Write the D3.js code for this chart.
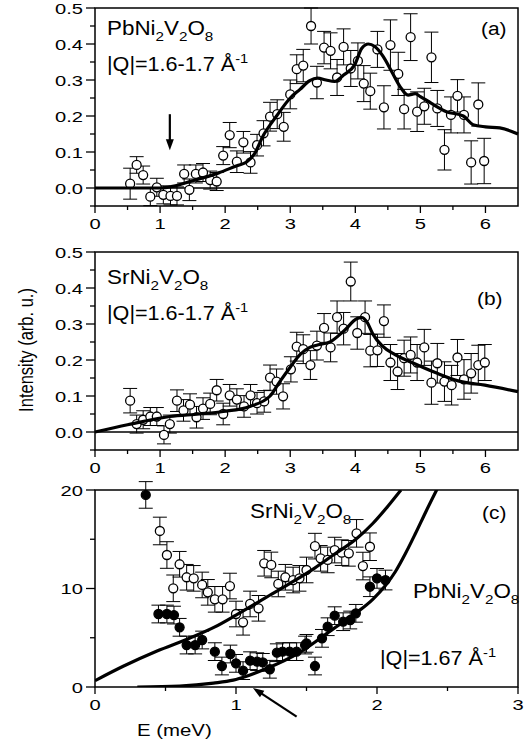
<!DOCTYPE html>
<html><head><meta charset="utf-8">
<script src="https://cdn.jsdelivr.net/npm/d3@7"></script>
<style>body{margin:0;background:#fff}svg{display:block}</style>
</head><body>
<svg id="c" width="531" height="743"></svg>
<script>
// ---------- DATA ----------
// Panel (a): PbNi2V2O8, |Q|=1.6-1.7
const aE   = [0.54,0.64,0.74,0.85,0.95,1.05,1.16,1.26,1.37,1.45,1.55,1.66,1.77,1.87,1.97,2.07,2.18,2.28,2.39,2.49,2.59,2.69,2.80,2.90,3.00,3.10,3.20,3.32,3.41,3.52,3.62,3.72,3.82,3.93,4.04,4.13,4.23,4.34,4.44,4.54,4.66,4.75,4.85,4.95,5.06,5.17,5.26,5.37,5.47,5.57,5.67,5.78,5.89,5.98];
const aI   = [0.012,0.064,0.036,-0.024,0.002,-0.019,-0.022,-0.022,0.039,-0.005,0.039,0.043,0.022,0.018,0.090,0.147,0.073,0.127,0.071,0.119,0.152,0.198,0.205,0.170,0.260,0.330,0.340,0.450,0.293,0.390,0.381,0.307,0.392,0.332,0.353,0.290,0.269,0.385,0.224,0.397,0.317,0.219,0.419,0.212,0.227,0.363,0.221,0.106,0.203,0.256,0.203,0.071,0.232,0.075];
const aErr = [0.043,0.023,0.025,0.025,0.025,0.025,0.025,0.025,0.025,0.030,0.025,0.025,0.025,0.025,0.025,0.035,0.030,0.030,0.030,0.030,0.035,0.040,0.040,0.040,0.040,0.040,0.045,0.050,0.045,0.045,0.050,0.050,0.050,0.050,0.050,0.050,0.050,0.050,0.060,0.070,0.060,0.055,0.065,0.055,0.050,0.070,0.050,0.056,0.050,0.045,0.050,0.060,0.060,0.063];
const aFitE = [0,1.0,1.12,1.5,1.9,2.18,2.33,2.45,2.59,2.79,3.0,3.15,3.3,3.42,3.55,3.68,3.82,3.99,4.10,4.20,4.30,4.43,4.56,4.69,4.81,4.92,5.0,5.17,5.40,5.66,5.81,6.0,6.22,6.5];
const aFitI = [0,0,0.002,0.02,0.042,0.062,0.072,0.095,0.147,0.200,0.250,0.274,0.298,0.305,0.300,0.296,0.314,0.342,0.388,0.400,0.393,0.365,0.323,0.281,0.258,0.262,0.254,0.235,0.212,0.200,0.176,0.170,0.167,0.150];

// Panel (b): SrNi2V2O8, |Q|=1.6-1.7
const bE   = [0.54,0.64,0.74,0.85,0.95,1.06,1.15,1.26,1.36,1.46,1.56,1.66,1.77,1.87,1.97,2.07,2.18,2.29,2.39,2.49,2.60,2.69,2.79,2.89,3.01,3.10,3.20,3.31,3.41,3.52,3.62,3.72,3.82,3.93,4.03,4.15,4.23,4.34,4.44,4.54,4.65,4.75,4.85,4.95,5.06,5.17,5.26,5.37,5.48,5.57,5.67,5.78,5.89,5.99];
const bI   = [0.087,0.022,0.034,0.043,0.043,-0.008,0.022,0.087,0.060,0.076,0.041,0.065,0.078,0.116,0.050,0.102,0.090,0.071,0.102,0.080,0.085,0.151,0.140,0.099,0.174,0.237,0.230,0.186,0.240,0.289,0.235,0.319,0.287,0.418,0.275,0.319,0.226,0.227,0.308,0.193,0.168,0.205,0.214,0.193,0.235,0.137,0.191,0.140,0.130,0.207,0.146,0.163,0.186,0.193];
const bErr = [0.034,0.025,0.025,0.025,0.025,0.025,0.025,0.030,0.030,0.030,0.030,0.030,0.030,0.030,0.030,0.030,0.030,0.030,0.030,0.030,0.030,0.035,0.035,0.035,0.035,0.040,0.040,0.040,0.040,0.040,0.040,0.045,0.045,0.054,0.045,0.045,0.045,0.045,0.045,0.050,0.050,0.050,0.050,0.050,0.050,0.060,0.055,0.055,0.055,0.050,0.055,0.055,0.055,0.050];
const bFitE = [0,0.5,1.15,1.6,1.97,2.38,2.69,2.84,3.0,3.15,3.3,3.45,3.61,3.82,4.03,4.10,4.18,4.27,4.41,4.61,4.87,5.23,5.58,5.99,6.5];
const bFitI = [0,0.02,0.043,0.050,0.057,0.071,0.100,0.140,0.180,0.215,0.235,0.243,0.250,0.280,0.315,0.318,0.305,0.272,0.240,0.215,0.193,0.165,0.142,0.130,0.112];

// Panel (c): |Q|=1.67
const cSrE   = [0.46,0.51,0.555,0.60,0.65,0.70,0.76,0.80,0.85,0.905,0.957,1.00,1.05,1.10,1.16,1.20,1.25,1.30,1.35,1.405,1.45,1.50,1.56,1.60,1.65,1.70,1.75,1.80,1.855,1.90,1.95];
const cSrI   = [15.84,13.4,10.02,12.46,11.14,11.03,10.36,9.61,8.9,8.9,10.25,7.41,6.57,8.43,7.99,12.56,12.39,10.46,11.14,10.86,11.03,11.88,14.3,13.06,12.9,13.9,13.64,13.57,15.6,12.28,14.24];
const cSrErr = [1.4,1.35,1.35,1.3,1.3,1.3,1.3,1.3,1.3,1.3,1.3,1.3,1.3,1.3,1.3,1.3,1.3,1.3,1.3,1.3,1.3,1.3,1.3,1.3,1.3,1.3,1.3,1.3,1.4,1.4,1.4];
const cPbE   = [0.36,0.45,0.51,0.56,0.60,0.65,0.71,0.76,0.85,0.90,0.96,1.00,1.05,1.10,1.15,1.19,1.24,1.29,1.33,1.38,1.43,1.49,1.50,1.56,1.61,1.65,1.70,1.76,1.81,1.85,1.95,2.00,2.06];
const cPbI   = [19.5,7.41,7.41,7.3,6.06,4.26,4.26,4.77,3.59,2.13,3.35,2.4,1.66,2.67,2.57,2.5,1.8,3.48,3.59,3.59,3.59,4.26,4.43,2.13,4.94,6.12,7.24,6.63,6.8,7.48,10.18,11.03,10.86];
const cPbErr = [1.35,0.9,0.9,0.9,0.9,0.9,0.9,0.9,0.9,0.9,0.9,0.9,0.9,0.9,0.9,0.9,0.9,0.9,0.9,0.9,0.9,0.9,0.9,0.9,0.9,0.9,0.9,0.9,0.9,0.9,1.0,1.0,1.0];
const cSrFitE = [0,0.2,0.44,0.67,0.85,1.0,1.19,1.38,1.55,1.70,1.85,1.97,2.08,2.17];
const cSrFitI = [0.64,2.1,3.65,4.95,6.1,7.3,8.9,10.5,12.0,13.5,15.0,16.6,18.4,20.0];
const cPbFitE = [0.3,0.6,0.84,0.98,1.075,1.22,1.45,1.69,1.85,1.97,2.06,2.13,2.20,2.27,2.35,2.43];
const cPbFitI = [0,0.1,0.4,0.7,1.1,1.9,3.5,5.9,7.5,8.9,10.3,11.7,13.5,15.5,17.9,20.2];

// tick labels
const xTicksAB = [0,1,2,3,4,5,6];
const yTicksAB = [0.0,0.1,0.2,0.3,0.4,0.5];
const xTicksC = [0,1,2,3];
const yTicksC = [0,10,20];

// ---------- DRAWING ----------
const svg = d3.select("#c");
const FONT = "'Liberation Sans', Arial, Helvetica, sans-serif";
const SX = 1.25;

function txt(g, x, y, s, size, anchor, sx) {
  return g.append("text").attr("transform", `translate(${x},${y}) scale(${sx||SX},1)`)
    .attr("font-family", FONT).attr("font-size", size).attr("text-anchor", anchor||"start")
    .attr("fill", "#000").text(s);
}
function formula(g, x, y, parts, size, sx) {
  const t = g.append("text").attr("transform", `translate(${x},${y}) scale(${sx},1)`)
    .attr("font-family", FONT).attr("font-size", size).attr("fill", "#000");
  let shift = 0;
  parts.forEach(p => {
    const target = p[1] === "sub" ? size*0.3 : p[1] === "sup" ? -size*0.42 : 0;
    const ts = t.append("tspan").attr("dy", target - shift).text(p[0]);
    if (p[1]) ts.attr("font-size", size*0.68);
    shift = target;
  });
  return t;
}
const pb = [["PbNi"],["2","sub"],["V"],["2","sub"],["O"],["8","sub"]];
const sr = [["SrNi"],["2","sub"],["V"],["2","sub"],["O"],["8","sub"]];

function panel(cfg) {
  const {x, y, xt, xminor, yt, yminor, yfmt} = cfg;
  const g = svg.append("g");
  const [x0, x1] = x.range(), [y0, y1] = y.range();
  yminor.forEach(v => g.append("line").attr("x1", x0-5).attr("x2", x0).attr("y1", y(v)).attr("y2", y(v)).attr("stroke","#000").attr("stroke-width",1.3));
  yt.forEach(v => {
    g.append("line").attr("x1", x0-9).attr("x2", x0).attr("y1", y(v)).attr("y2", y(v)).attr("stroke","#000").attr("stroke-width",1.3);
    txt(g, x0-12, y(v)+5.5, yfmt(v), 15.5, "end", 1.3);
  });
  xminor.forEach(v => g.append("line").attr("x1", x(v)).attr("x2", x(v)).attr("y1", y0).attr("y2", y0+4).attr("stroke","#000").attr("stroke-width",1.3));
  xt.forEach(v => {
    g.append("line").attr("x1", x(v)).attr("x2", x(v)).attr("y1", y0).attr("y2", y0+7).attr("stroke","#000").attr("stroke-width",1.3);
    txt(g, x(v), y0+23, String(v), 15.5, "middle", 1.3);
  });
  g.append("rect").attr("x", x0).attr("y", y1).attr("width", x1-x0).attr("height", y0-y1)
    .attr("fill","none").attr("stroke","#000").attr("stroke-width",1.5);
  return g;
}

function points(g, x, y, E, I, Err, filled) {
  const cap = 7;
  E.forEach((e, i) => {
    const px = x(e), lo = y(I[i]-Err[i]), hi = y(I[i]+Err[i]);
    g.append("line").attr("x1",px).attr("x2",px).attr("y1",lo).attr("y2",hi).attr("stroke","#000").attr("stroke-width",1);
    [lo,hi].forEach(yy => g.append("line").attr("x1",px-cap).attr("x2",px+cap).attr("y1",yy).attr("y2",yy).attr("stroke","#000").attr("stroke-width",1));
  });
  E.forEach((e, i) => {
    g.append("circle").attr("cx", x(e)).attr("cy", y(I[i])).attr("r", 4.5)
      .attr("fill", filled ? "#000" : "#fff").attr("stroke","#000").attr("stroke-width",1.3);
  });
}
function curve(g, x, y, E, I, clipId) {
  g.append("path").datum(E.map((e,i)=>[e,I[i]]))
    .attr("d", d3.line().x(d=>x(d[0])).y(d=>y(d[1])).curve(d3.curveMonotoneX))
    .attr("fill","none").attr("stroke","#000").attr("stroke-width",3.2).attr("stroke-linejoin","round")
    .attr("clip-path", clipId ? `url(#${clipId})` : null);
}
function arrowHead(g, xh, yh, xt, yt) {
  const ang = Math.atan2(yh-yt, xh-xt), L = 11, Wd = 4;
  const bx = xh - L*Math.cos(ang), by = yh - L*Math.sin(ang);
  const nx = -Math.sin(ang)*Wd, ny = Math.cos(ang)*Wd;
  g.append("line").attr("x1",xt).attr("y1",yt).attr("x2",bx+Math.cos(ang)*2).attr("y2",by+Math.sin(ang)*2).attr("stroke","#000").attr("stroke-width",2.2);
  g.append("path").attr("d",`M${xh},${yh}L${bx+nx},${by+ny}L${bx-nx},${by-ny}Z`).attr("fill","#000");
}

const f1 = d3.format(".1f");
const minorAB = d3.range(0.5, 6.5, 1);
const yMinorAB = [-0.05,0.05,0.15,0.25,0.35,0.45];

// Panel (a)
const xA = d3.scaleLinear([0,6.5],[95,518]);
const yA = d3.scaleLinear([-0.05,0.5],[206,8]);
const gA = panel({x:xA, y:yA, xt:xTicksAB, xminor:minorAB, yt:yTicksAB, yminor:yMinorAB, yfmt:f1});
gA.append("line").attr("x1",xA(0)).attr("x2",xA(6.5)).attr("y1",yA(0)).attr("y2",yA(0)).attr("stroke","#000").attr("stroke-width",1.6);
points(gA, xA, yA, aE, aI, aErr, false);
curve(gA, xA, yA, aFitE, aFitI);
arrowHead(gA, xA(1.15), yA(0.105), xA(1.15), yA(0.205));
formula(gA, 107, 35, pb, 20, 1.12);
formula(gA, 107, 71, [["|Q|=1.6-1.7 Å"],["-1","sup"]], 20, 1.08);
txt(gA, 481, 35, "(a)", 19, "start", 1.1);

// Panel (b)
const xB = d3.scaleLinear([0,6.5],[95,518]);
const yB = d3.scaleLinear([-0.05,0.5],[450,252]);
const gB = panel({x:xB, y:yB, xt:xTicksAB, xminor:minorAB, yt:yTicksAB, yminor:yMinorAB, yfmt:f1});
gB.append("line").attr("x1",xB(0)).attr("x2",xB(6.5)).attr("y1",yB(0)).attr("y2",yB(0)).attr("stroke","#000").attr("stroke-width",1.6);
points(gB, xB, yB, bE, bI, bErr, false);
curve(gB, xB, yB, bFitE, bFitI);
formula(gB, 107, 284, sr, 20, 1.12);
formula(gB, 107, 320, [["|Q|=1.6-1.7 Å"],["-1","sup"]], 20, 1.08);
txt(gB, 477, 305, "(b)", 19, "start", 1.1);

// Panel (c)
const xC = d3.scaleLinear([0,3],[95,518]);
const yC = d3.scaleLinear([0,20],[687,490]);
svg.append("clipPath").attr("id","clipC").append("rect").attr("x",95).attr("y",490).attr("width",423).attr("height",197);
const gC = panel({x:xC, y:yC, xt:xTicksC, xminor:[0.5,1.5,2.5], yt:yTicksC, yminor:[5,15], yfmt:d=>String(d)});
points(gC, xC, yC, cSrE, cSrI, cSrErr, false);
points(gC, xC, yC, cPbE, cPbI, cPbErr, true);
curve(gC, xC, yC, cSrFitE, cSrFitI, "clipC");
curve(gC, xC, yC, cPbFitE, cPbFitI, "clipC");
arrowHead(gC, xC(1.12), yC(-0.1), xC(1.43), yC(-3.0));
formula(gC, 250, 518, sr, 20, 1.12);
formula(gC, 413, 598, pb, 20, 1.12);
formula(gC, 380, 665, [["|Q|=1.67 Å"],["-1","sup"]], 20, 1.08);
txt(gC, 482, 519, "(c)", 19, "start", 1.1);

// axis titles
svg.append("text").attr("transform","translate(33,350) rotate(-90) scale(1,1.2)")
  .attr("font-family",FONT).attr("font-size",16.5).attr("text-anchor","middle").text("Intensity (arb. u.)");
txt(svg, 137, 736, "E (meV)", 17, "start", 1.2);
</script>
</body></html>
